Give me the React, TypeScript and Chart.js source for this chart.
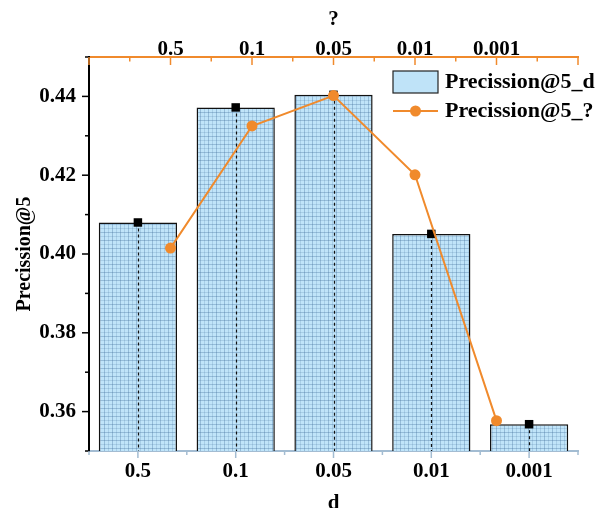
import React, { useEffect, useRef } from "react";
import { Chart, registerables } from "chart.js";

Chart.register(...registerables);

const categories = ["0.5", "0.1", "0.05", "0.01", "0.001"];
const barValues = [0.408, 0.4372, 0.4404, 0.4051, 0.3568];
const topLabels = ["0.5", "0.1", "0.05", "0.01", "0.001"];
const topPositions = [2, 4, 6, 8, 10];
const lineValues = [0.4015, 0.4325, 0.4402, 0.4201, 0.3577];
const barLabel = "Precission@5_d";
const lineLabel = "Precission@5_?";
const yTitle = "Precission@5";
const xTitle = "d";
const topTitle = "?";

const ORANGE = "#f08a2c";
const STEEL = "#a3bcd2";
const FONT = '"Liberation Serif", "Times New Roman", serif';

function makePattern(): CanvasPattern | string {
  const c = document.createElement("canvas");
  c.width = 8;
  c.height = 8;
  const g = c.getContext("2d");
  if (!g) return "#b8dcf2";
  g.fillStyle = "#c0e4f9";
  g.fillRect(0, 0, 8, 8);
  g.fillStyle = "rgba(60,105,150,0.32)";
  g.fillRect(0, 0, 1, 8);
  g.fillRect(0, 0, 8, 1);
  g.fillStyle = "rgba(60,105,150,0.18)";
  g.fillRect(4, 0, 1, 8);
  g.fillRect(0, 4, 8, 1);
  return g.createPattern(c, "repeat") || "#b8dcf2";
}

const ticksPlugin = {
  id: "customTicks",
  afterDatasetDraw(chart: any, args: any) {
    if (args.index !== 0) return;
    const ctx = chart.ctx;
    const meta = chart.getDatasetMeta(0);
    const bottom = chart.chartArea.bottom;
    ctx.save();
    ctx.strokeStyle = "#111";
    ctx.lineWidth = 1.2;
    ctx.setLineDash([3, 3]);
    meta.data.forEach((bar: any) => {
      const p = bar.getProps(["x", "y", "base"], true);
      const px = Math.round(p.x) + 0.5;
      ctx.beginPath();
      ctx.moveTo(px, p.y);
      ctx.lineTo(px, Math.min(p.base, bottom));
      ctx.stroke();
    });
    ctx.restore();
  },
  afterDraw(chart: any) {
    const ctx = chart.ctx;
    const { left, top, bottom } = chart.chartArea;
    const y = chart.scales.y;
    const x = chart.scales.x;
    const x2 = chart.scales.x2;
    const line = (a: number, b: number, c: number, d: number) => {
      ctx.beginPath();
      ctx.moveTo(a, b);
      ctx.lineTo(c, d);
      ctx.stroke();
    };
    ctx.save();
    ctx.lineWidth = 1.5;
    ctx.strokeStyle = "#000";
    y.ticks.forEach((t: any) => {
      const py = y.getPixelForValue(t.value);
      const major = Math.round(t.value * 100) % 2 === 0;
      line(left - (major ? 7 : 4), py, left, py);
    });
    ctx.strokeStyle = ORANGE;
    x2.ticks.forEach((t: any) => {
      const px = x2.getPixelForValue(t.value);
      const major = Math.round(t.value) % 2 === 0;
      line(px, top, px, top + (major ? 8 : 4.5));
    });
    ctx.strokeStyle = STEEL;
    for (let i = 0; i <= categories.length; i++) {
      const px = x.getPixelForValue(i - 0.5);
      line(px, bottom, px, bottom + 4);
    }
    for (let i = 0; i < categories.length; i++) {
      const px = x.getPixelForValue(i);
      line(px, bottom, px, bottom + 7);
    }
    // legend
    const lx = chart.chartArea.right - 185;
    const ly1 = 82;
    const ly2 = 111;
    ctx.fillStyle = "#bfe3f8";
    ctx.fillRect(lx, ly1 - 11, 45, 22);
    ctx.strokeStyle = "#222";
    ctx.lineWidth = 1.2;
    ctx.strokeRect(lx, ly1 - 11, 45, 22);
    ctx.strokeStyle = ORANGE;
    ctx.lineWidth = 2;
    line(lx, ly2, lx + 45, ly2);
    ctx.fillStyle = ORANGE;
    ctx.beginPath();
    ctx.arc(lx + 22.5, ly2, 5.5, 0, Math.PI * 2);
    ctx.fill();
    ctx.fillStyle = "#000";
    ctx.font = `bold 22px ${FONT}`;
    ctx.textAlign = "left";
    ctx.textBaseline = "middle";
    ctx.fillText(barLabel, lx + 52, ly1);
    ctx.fillText(lineLabel, lx + 52, ly2);
    ctx.restore();
  },
};

export default function App() {
  const ref = useRef<HTMLCanvasElement | null>(null);
  useEffect(() => {
    if (!ref.current) return;
    const pattern = makePattern();
    const tickFont = { family: FONT, size: 21, weight: "bold" as const };
    const chart = new Chart(ref.current, {
      type: "bar",
      data: {
        labels: categories,
        datasets: [
          {
            type: "bar",
            label: barLabel,
            data: barValues,
            backgroundColor: pattern as any,
            borderColor: "#111",
            borderWidth: 1.5,
            borderSkipped: false,
            barPercentage: 0.8,
            categoryPercentage: 1,
            grouped: false,
            xAxisID: "x",
            yAxisID: "y",
            order: 2,
          },
          {
            type: "line",
            label: "markers",
            data: barValues,
            showLine: false,
            pointStyle: "rect",
            pointRadius: 6,
            pointBackgroundColor: "#000",
            pointBorderColor: "#000",
            pointBorderWidth: 0,
            xAxisID: "x",
            yAxisID: "y",
            order: 1,
          },
          {
            type: "line",
            label: lineLabel,
            data: topPositions.map((p, i) => ({ x: p, y: lineValues[i] })),
            borderColor: ORANGE,
            backgroundColor: ORANGE,
            borderWidth: 2,
            pointRadius: 5.5,
            pointBackgroundColor: ORANGE,
            pointBorderColor: ORANGE,
            pointBorderWidth: 0,
            xAxisID: "x2",
            yAxisID: "y",
            order: 0,
            clip: false as any,
          },
        ],
      },
      options: {
        responsive: false,
        animation: false,
        devicePixelRatio: 1,
        layout: { padding: { left: 0, right: 18, top: 0, bottom: 0 } },
        plugins: {
          legend: { display: false },
          tooltip: { enabled: false },
        },
        scales: {
          x: {
            type: "category",
            position: "bottom",
            offset: true,
            grid: { display: true, drawOnChartArea: false, drawTicks: false, offset: true },
            border: { display: true, color: STEEL, width: 2 },
            ticks: { font: tickFont, color: "#000", padding: 8, maxRotation: 0 },
            title: {
              display: true,
              text: xTitle,
              font: { family: FONT, size: 21, weight: "bold", lineHeight: 0.4 },
              color: "#000",
              padding: { top: 0, bottom: 0 },
            },
            afterFit: (s: any) => {
              s.height = 57;
            },
          },
          x2: {
            type: "linear",
            position: "top",
            min: 0,
            max: 12,
            offset: false,
            grid: { display: true, drawOnChartArea: false, drawTicks: false, offset: false },
            border: { display: true, color: ORANGE, width: 2 },
            ticks: {
              stepSize: 1,
              autoSkip: false,
              maxRotation: 0,
              font: tickFont,
              color: "#000",
              padding: -5,
              callback: (v: any) => {
                const r = Math.round(Number(v));
                const idx = topPositions.indexOf(r);
                return idx >= 0 ? topLabels[idx] : "";
              },
            },
            title: {
              display: true,
              text: topTitle,
              font: { family: FONT, size: 21, weight: "bold" },
              color: "#000",
              padding: { top: 7, bottom: 0 },
            },
            afterFit: (s: any) => {
              s.height = 57;
            },
          },
          y: {
            type: "linear",
            position: "left",
            min: 0.35,
            max: 0.45,
            grid: { display: true, drawOnChartArea: false, drawTicks: false },
            border: { display: true, color: "#000", width: 2 },
            ticks: {
              stepSize: 0.01,
              autoSkip: false,
              font: tickFont,
              color: "#000",
              padding: 13,
              callback: (v: any) => {
                const r = Math.round(Number(v) * 100);
                return r % 2 === 0 && r >= 36 && r <= 44 ? (r / 100).toFixed(2) : "";
              },
            },
            title: {
              display: true,
              text: yTitle,
              font: { family: FONT, size: 20, weight: "bold" },
              color: "#000",
              padding: { top: 13, bottom: 0 },
            },
            afterFit: (s: any) => {
              s.width = 89;
            },
          },
        },
      },
      plugins: [ticksPlugin],
    });
    return () => chart.destroy();
  }, []);
  return (
    <div style={{ position: "fixed", left: 0, top: 0, width: 596, height: 508, background: "#fff" }}>
      <canvas ref={ref} width={596} height={508} style={{ width: 596, height: 508 }} />
    </div>
  );
}
